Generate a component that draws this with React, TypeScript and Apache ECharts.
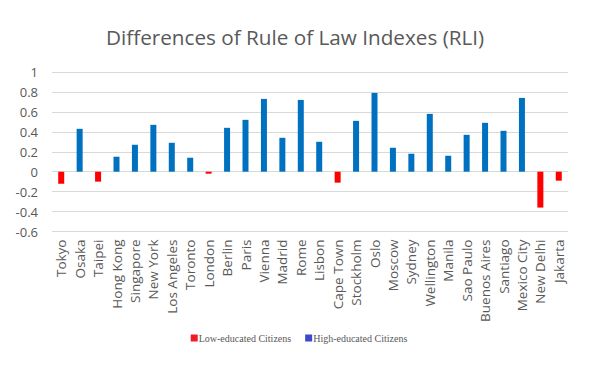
import React, { useEffect, useRef } from "react";
import * as echarts from "echarts";

const cities = [
  "Tokyo", "Osaka", "Taipei", "Hong Kong", "Singapore", "New York", "Los Angeles", "Toronto",
  "London", "Berlin", "Paris", "Vienna", "Madrid", "Rome", "Lisbon", "Cape Town", "Stockholm",
  "Oslo", "Moscow", "Sydney", "Wellington", "Manila", "Sao Paulo", "Buenos Aires", "Santiago",
  "Mexico City", "New Delhi", "Jakarta",
];

const rliDifference = [
  -0.12, 0.43, -0.1, 0.15, 0.27, 0.47, 0.29, 0.14, -0.02, 0.44, 0.52, 0.73, 0.34, 0.72, 0.3,
  -0.11, 0.51, 0.79, 0.24, 0.18, 0.58, 0.16, 0.37, 0.49, 0.41, 0.74, -0.36, -0.09,
];

const seriesNames = ["Low-educated Citizens", "High-educated Citizens"];
const lowValues = rliDifference.map((v) => (v < 0 ? v : "-"));
const highValues = rliDifference.map((v) => (v >= 0 ? v : "-"));

export default function App() {
  const ref = useRef<HTMLDivElement>(null);
  useEffect(() => {
    if (!ref.current) return;
    const chart = echarts.init(ref.current, null, { renderer: "svg" });
    const axisFont = "'Open Sans', 'Noto Sans', sans-serif";
    chart.setOption({
      animation: false,
      backgroundColor: "#ffffff",
      title: {
        text: "Differences of Rule of Law Indexes (RLI)",
        left: 101,
        top: 21,
        textStyle: { fontFamily: axisFont, fontSize: 20.7, fontWeight: "normal", color: "#595959" },
      },
      grid: { left: 52, right: 30, top: 72, bottom: 138.5, containLabel: false },
      legend: {
        bottom: 22,
        left: "center",
        itemWidth: 7,
        itemHeight: 7,
        itemGap: 14,
        icon: "rect",
        textStyle: { fontFamily: "'Liberation Serif', serif", fontSize: 10, color: "#595959", padding: [0, 0, 0, -4] },
        data: [
          { name: seriesNames[0], itemStyle: { color: "#ee1c25" } },
          { name: seriesNames[1], itemStyle: { color: "#3f48cc" } },
        ],
      },
      xAxis: {
        type: "category",
        data: cities,
        axisLine: { show: false },
        axisTick: { show: false },
        axisLabel: {
          rotate: 90,
          interval: 0,
          margin: 8,
          fontFamily: axisFont,
          fontSize: 13.5,
          color: "#595959",
        },
      },
      yAxis: {
        type: "value",
        min: -0.6,
        max: 1,
        interval: 0.2,
        axisLine: { show: false },
        axisTick: { show: false },
        splitLine: { lineStyle: { color: "#d9d9d9", width: 1 } },
        axisLabel: {
          margin: 14,
          fontFamily: axisFont,
          fontSize: 13,
          color: "#595959",
          formatter: (v: number) => String(Math.round(v * 10) / 10),
        },
      },
      series: [
        {
          name: seriesNames[0],
          type: "bar",
          stack: "rli",
          barWidth: 6,
          data: lowValues,
          itemStyle: { color: "#ff0000" },
        },
        {
          name: seriesNames[1],
          type: "bar",
          stack: "rli",
          barWidth: 6,
          data: highValues,
          itemStyle: { color: "#0070c0" },
        },
      ],
    });
    return () => chart.dispose();
  }, []);
  return (
    <div
      ref={ref}
      style={{ position: "absolute", left: 0, top: 0, width: 598, height: 370 }}
    />
  );
}
